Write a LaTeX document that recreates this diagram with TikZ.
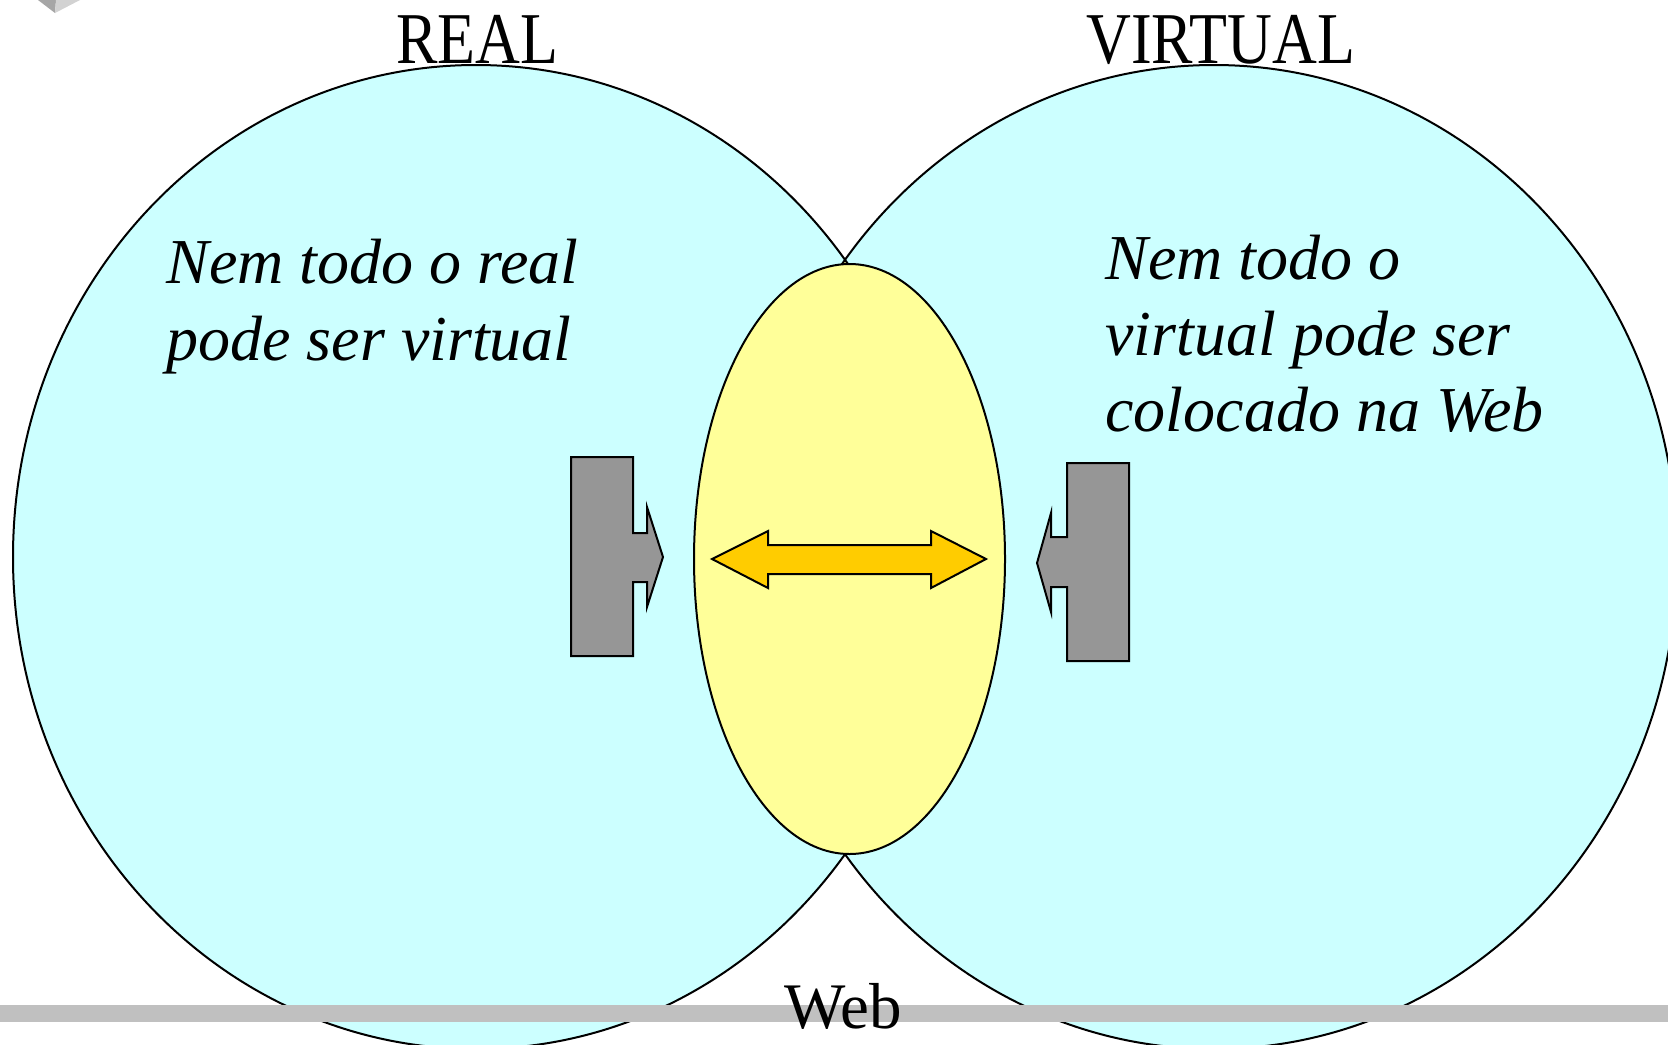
\documentclass[tikz,border=0pt]{standalone}
\usepackage{fontspec}
\setmainfont{Liberation Serif}
\newfontfamily\headfont[FakeStretch=0.85]{Liberation Serif}
\definecolor{cyanfill}{HTML}{CCFFFF}
\definecolor{yellowfill}{HTML}{FFFF99}
\definecolor{goldfill}{HTML}{FFCC00}
\definecolor{grayfill}{HTML}{969696}
\definecolor{barfill}{HTML}{C0C0C0}
\begin{document}
\begin{tikzpicture}[x=0.5pt,y=-0.5pt,
  outline/.style={draw=black,line width=1pt,line join=miter},
  headtext/.style={inner sep=0pt,anchor=base west,font=\headfont\fontsize{36.5}{40}\selectfont},
  bodytext/.style={inner sep=0pt,anchor=base west,font=\itshape\fontsize{32}{38}\selectfont},
  webtext/.style={inner sep=0pt,anchor=base west,font=\fontsize{32.5}{38}\selectfont}]
\useasboundingbox (0,0) rectangle (1668,1044);
\clip (0,0) rectangle (1668,1044);
\fill[white] (0,0) rectangle (1668,1044);
% top-left artifact
\fill[gray!70] (38,0) -- (56,0) -- (55,13) -- cycle;
\fill[gray!35] (56,0) -- (80,0) -- (55,13) -- cycle;
% circles
\fill[cyanfill] (476,557) ellipse [x radius=463, y radius=492];
\fill[cyanfill] (1214,557) ellipse [x radius=463, y radius=492];
\begin{scope}
  \clip (476,557) ellipse [x radius=463, y radius=492];
  \fill[yellowfill] (1214,557) ellipse [x radius=463, y radius=492];
\end{scope}
\draw[black,line width=1pt] (476,557) ellipse [x radius=463, y radius=492];
\draw[black,line width=1pt] (1214,557) ellipse [x radius=463, y radius=492];
% central ellipse
\draw[outline,fill=yellowfill] (849.5,559) ellipse [x radius=155.5, y radius=295];
% gray arrow blocks
\draw[outline,fill=grayfill] (571,457) -- (633,457) -- (633,533) -- (647,533) -- (647,507) -- (663,557) -- (647,607) -- (647,582) -- (633,582) -- (633,656) -- (571,656) -- cycle;
\draw[outline,fill=grayfill] (1129,463) -- (1067,463) -- (1067,537) -- (1051,537) -- (1051,513) -- (1037,563) -- (1051,612) -- (1051,587) -- (1067,587) -- (1067,661) -- (1129,661) -- cycle;
% double arrow
\draw[outline,fill=goldfill] (712,559) -- (768,531) -- (768,545) -- (931,545) -- (931,531) -- (986,559) -- (931,588) -- (931,574) -- (768,574) -- (768,588) -- cycle;
% bottom bar
\fill[barfill] (0,1005) rectangle (1668,1022);
% texts
\node[headtext] (real) at (396,63) {REAL};
\node[headtext] (virtual) at (1086,63) {VIRTUAL};
\node[bodytext] (l1) at (166,283) {Nem todo o real};
\node[bodytext] (l2) at (166,360) {pode ser virtual};
\node[bodytext] (r1) at (1105,279) {Nem todo o};
\node[bodytext] (r2) at (1105,355) {virtual pode ser};
\node[bodytext] (r3) at (1105,431) {colocado na Web};
\node[webtext] (web) at (784,1028) {Web};
\end{tikzpicture}
\end{document}
